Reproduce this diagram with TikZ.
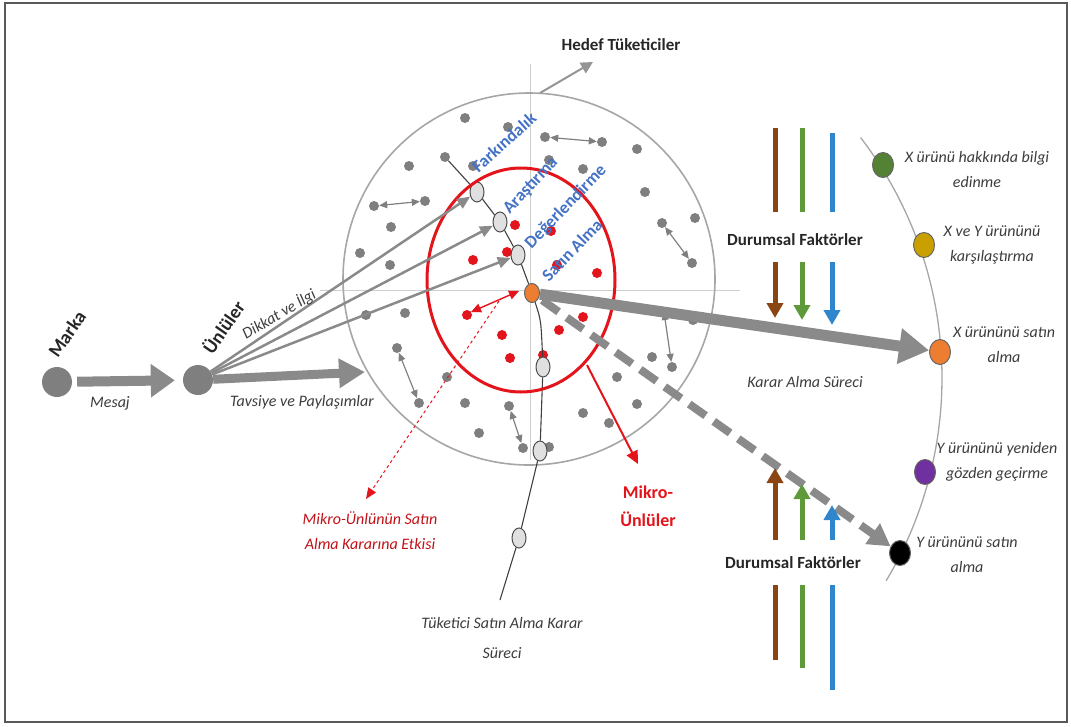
\documentclass[tikz,border=0pt]{standalone}
\usepackage{fontspec}
\setmainfont{Carlito}
\usetikzlibrary{arrows.meta,shapes.geometric}
\definecolor{dotgray}{HTML}{7F7F7F}
\definecolor{arrgray}{HTML}{8A8A8A}
\definecolor{circgray}{HTML}{A6A6A6}
\definecolor{crossgray}{HTML}{CFCFCF}
\definecolor{txtgray}{HTML}{3C3C3C}
\definecolor{lblblue}{HTML}{4472C4}
\definecolor{myred}{HTML}{E3141B}
\definecolor{fbrown}{HTML}{8B4513}
\definecolor{fgreen}{HTML}{5E9A3A}
\definecolor{fblue}{HTML}{2F86CC}
\definecolor{dgreen}{HTML}{548235}
\definecolor{dyellow}{HTML}{C9A000}
\definecolor{dorange}{HTML}{ED7D31}
\definecolor{dpurple}{HTML}{7030A0}
\begin{document}
\begin{tikzpicture}[x=1pt,y=-1pt,
  gdot/.style={circle,fill=dotgray,inner sep=0pt,minimum size=10pt},
  rdot/.style={circle,fill=myred,inner sep=0pt,minimum size=10pt},
  bigdot/.style={circle,fill=dotgray,inner sep=0pt,minimum size=30pt},
  stepoval/.style={ellipse,draw=black!70,line width=1pt,fill=black!12,inner sep=0pt,minimum width=14pt,minimum height=20pt},
  orangeoval/.style={ellipse,draw=black!60,line width=1pt,fill=dorange,inner sep=0pt,minimum width=15pt,minimum height=19pt},
  rightdot/.style={ellipse,draw=black!60,line width=1pt,inner sep=0pt,minimum width=21pt,minimum height=25pt},
  darr/.style={draw=dotgray,line width=1.2pt,{Triangle[length=8pt,width=7pt]}-{Triangle[length=8pt,width=7pt]}},
  thinarr/.style={draw=arrgray,line width=2.5pt,-{Triangle[length=13pt,width=11pt]}},
  pathline/.style={draw=black!75,line width=1.1pt},
  itxt/.style={font=\fontsize{16}{25}\selectfont\itshape,text=txtgray,align=center,inner sep=0pt},
  btxt/.style={font=\fontsize{17}{22}\selectfont\bfseries,text=black!85,align=center,inner sep=0pt},
  bluetxt/.style={font=\fontsize{17.5}{20}\selectfont\bfseries,text=lblblue,inner sep=0pt},
  factline/.style={line width=5pt},
  factarr/.style={line width=5pt,-{Triangle[length=15pt,width=16pt]}}
]
\useasboundingbox (0,0) rectangle (1071,726);
\draw[black!65,line width=2pt] (5,3) rectangle (1067,722);

% target consumer circle and cross lines
\draw[crossgray,line width=1pt] (320,290) -- (740,290);
\draw[crossgray,line width=1pt] (530,64) -- (530,460);
\draw[circgray,line width=1.6pt] (529,279) circle[radius=186];
\coordinate (ctop) at (540,93);
\coordinate (hedefend) at (593,62);
\draw[circgray!90!black,line width=2pt,-{Triangle[length=12pt,width=12pt]}] (ctop) -- (hedefend);
\node[btxt] (hedef) at (621,45) {Hedef Tüketiciler};

% gray dots
\node[gdot] (g1) at (465,118) {};
\node[gdot] (g2) at (508,127) {};
\node[gdot] (g3) at (409,166) {};
\node[gdot] (p0) at (445,157) {};
\node[gdot] (g4) at (473,166) {};
\node[gdot] (g5) at (549,160) {};
\node[gdot] (g6) at (583,169) {};
\node[gdot] (g7) at (637,149) {};
\node[gdot] (g8) at (391,227) {};
\node[gdot] (g9) at (390,265) {};
\node[gdot] (g10) at (360,253) {};
\node[gdot] (g11) at (645,192) {};
\node[gdot] (g12) at (695,218) {};
\node[gdot] (g13) at (366,315) {};
\node[gdot] (g14) at (405,313) {};
\node[gdot] (g15) at (447,377) {};
\node[gdot] (g16) at (465,403) {};
\node[gdot] (g17) at (479,433) {};
\node[gdot] (g18) at (549,447) {};
\node[gdot] (g19) at (583,413) {};
\node[gdot] (g20) at (617,377) {};
\node[gdot] (g21) at (609,423) {};
\node[gdot] (g22) at (637,404) {};
\node[gdot] (g23) at (652,357) {};
\node[gdot] (g24) at (693,320) {};
% pairs with double arrows
\node[gdot] (a1s) at (545,137) {};
\node[gdot] (a1e) at (602,142) {};
\node[gdot] (a2s) at (374,206) {};
\node[gdot] (a2e) at (425,201) {};
\node[gdot] (a3s) at (662,223) {};
\node[gdot] (a3e) at (692,263) {};
\node[gdot] (a4s) at (397,348) {};
\node[gdot] (a4e) at (419,403) {};
\node[gdot] (a5s) at (509,406) {};
\node[gdot] (a5e) at (523,448) {};
\coordinate (a6s) at (664,312);
\node[gdot] (a6e) at (672,367) {};
\draw[darr] (a1s) -- (a1e);
\draw[darr] (a2s) -- (a2e);
\draw[darr] (a3s) -- (a3e);
\draw[darr] (a4s) -- (a4e);
\draw[darr] (a5s) -- (a5e);
\draw[darr] (a6s) -- (a6e);

% red dots
\node[rdot] (r1) at (515,225) {};
\node[rdot] (r2) at (551,231) {};
\node[rdot] (r3) at (473,260) {};
\node[rdot] (r4) at (507,252) {};
\node[rdot] (r5) at (597,273) {};
\node[rdot] (r6) at (557,265) {};
\node[rdot] (r7) at (467,315) {};
\node[rdot] (r8) at (502,335) {};
\node[rdot] (r9) at (510,358) {};
\node[rdot] (r10) at (559,330) {};
\node[rdot] (r11) at (583,317) {};
\node[rdot] (r12) at (543,355) {};

% consumer decision path
\node[stepoval] (o1) at (477,192) {};
\node[stepoval] (o2) at (500,222) {};
\node[stepoval] (o3) at (518,255) {};
\node[orangeoval] (ora) at (532,293) {};
\node[stepoval] (o4) at (543,367) {};
\node[stepoval] (o5) at (540,451) {};
\node[stepoval] (o6) at (519,538) {};
\coordinate (pend) at (500,600);
\draw[pathline] (p0) -- (o1) -- (o2) -- (o3) -- (ora) .. controls (541,320) .. (o4) -- (o5) -- (o6) -- (pend);

% red micro-celebrity circle
\draw[myred,line width=3pt] (521,280) ellipse[x radius=94, y radius=112];
\coordinate (mk1) at (587,365);
\coordinate (mk2) at (638,464);
\draw[myred,line width=2pt,-{Triangle[length=13pt,width=12pt]}] (mk1) -- (mk2);
\node[btxt,text=myred,font=\fontsize{18}{28}\selectfont\bfseries] (mikro) at (648,506) {Mikro-\\Ünlüler};
\coordinate (ra1) at (471,312);
\coordinate (ra2) at (519,291);
\draw[myred,line width=1.4pt,{Triangle[length=10pt,width=9pt]}-{Triangle[length=10pt,width=9pt]}] (ra1) -- (ra2);
\coordinate (rd0) at (499,301);
\coordinate (rd1) at (366,499);
\draw[myred,line width=1pt,dashed,-{Triangle[length=11pt,width=9pt]}] (rd0) -- (rd1);
\node[itxt,text=myred!85!black] (etki) at (370,531) {Mikro-Ünlünün Satın\\Alma Kararına Etkisi};

% stage labels
\node[bluetxt,rotate=42] (lf) at (504,142) {Farkındalık};
\node[bluetxt,rotate=47] (la) at (531,186) {Araştırma};
\node[bluetxt,rotate=46] (ld) at (566,207) {Değerlendirme};
\node[bluetxt,rotate=46] (ls) at (572,250) {Satın Alma};
\node[itxt] (tsak) at (502,638) {Tüketici Satın Alma Karar\\[5pt]Süreci};

% brand and celebrities
\node[bigdot] (marka) at (57,382) {};
\node[bigdot] (un) at (198,380) {};
\node[btxt,font=\fontsize{19}{22}\selectfont\bfseries,rotate=55] (lmarka) at (67,334) {Marka};
\node[btxt,font=\fontsize{19}{22}\selectfont\bfseries,rotate=55] (lun) at (223,327) {Ünlüler};
\draw[arrgray,line width=10pt,shorten <=5pt,shorten >=8pt,-{Triangle[length=24pt,width=32pt]}] (marka) -- (un);
\node[itxt] (mesaj) at (110,403) {Mesaj};
\coordinate (tavend) at (365,372);
\draw[arrgray,line width=9pt,-{Triangle[length=26pt,width=28pt]}] (un) -- (tavend);
\node[itxt] (tavsiye) at (302,402) {Tavsiye ve Paylaşımlar};
\draw[thinarr] (un) -- (o1);
\draw[thinarr] (un) -- (o2);
\draw[thinarr] (un) -- (o3);
\node[itxt,rotate=31] (dikkat) at (279,314) {Dikkat ve İlgi};

% right: purchase options arc
\draw[circgray,line width=1.3pt] plot[domain=-37.4:30.8,samples=80] ({546+396*cos(\x)},{378+396*sin(\x)});
\node[rightdot,fill=dgreen] (xg) at (883,165) {};
\node[rightdot,fill=dyellow] (xy) at (924,245) {};
\node[rightdot,fill=dorange] (xo) at (940,352) {};
\node[rightdot,fill=dpurple] (xp) at (925,472) {};
\node[rightdot,fill=black] (xb) at (900,553) {};
\node[itxt] (lxg) at (977,169) {X ürünü hakkında bilgi\\edinme};
\node[itxt] (lxy) at (992,245) {X ve Y ürününü\\karşılaştırma};
\node[itxt] (lxo) at (1004,345) {X ürününü satın\\alma};
\node[itxt] (lxp) at (997,462) {Y ürününü yeniden\\gözden geçirme};
\node[itxt] (lxb) at (967,555) {Y ürününü satın\\alma};

% main decision arrows
\draw[arrgray,line width=11pt,-{Triangle[length=30pt,width=34pt]}] (ora) -- (xo);
\draw[arrgray,line width=8pt,dash pattern=on 20pt off 10pt,shorten <=4pt,-{Triangle[length=22pt,width=24pt]}] (ora) -- (xb);

% situational factors
\node[btxt] (df1) at (795,240) {Durumsal Faktörler};
\node[btxt] (df2) at (793,563) {Durumsal Faktörler};
\node[itxt] (kas) at (805,382) {Karar Alma Süreci};
\draw[factline,fbrown] (775,128) -- (775,212);
\draw[factline,fgreen] (802,128) -- (802,212);
\draw[factline,fblue] (832,133) -- (832,212);
\draw[factarr,fbrown] (775,262) -- (775,318);
\draw[factarr,fgreen] (802,262) -- (802,320);
\draw[factarr,fblue] (832,262) -- (832,325);
\draw[factarr,fbrown] (775,540) -- (775,468);
\draw[factarr,fgreen] (802,540) -- (802,484);
\draw[factarr,fblue] (832,540) -- (832,505);
\draw[factline,fbrown] (775,585) -- (775,660);
\draw[factline,fgreen] (802,585) -- (802,668);
\draw[factline,fblue] (832,585) -- (832,690);
\end{tikzpicture}
\end{document}
